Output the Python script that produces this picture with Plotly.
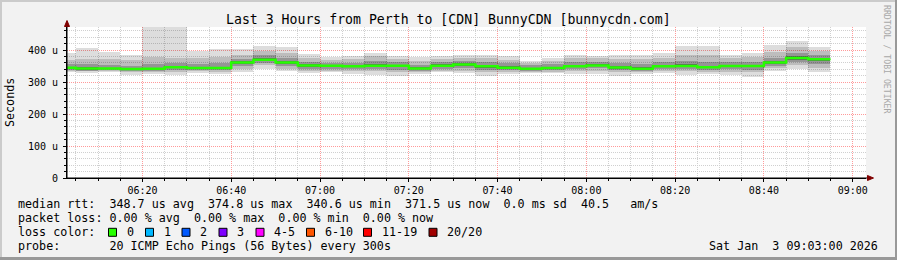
import plotly.graph_objects as go
import pandas as pd

# ---------------- data ----------------
step_start = pd.date_range("2026-01-03 06:00", periods=35, freq="5min")
median = [345, 342, 342, 340.6, 341.5, 346, 344, 344, 361, 370,
          361, 352, 351, 349, 351, 351, 342.6, 351, 355, 349,
          345, 341.6, 344, 349, 352, 345.5, 341.6, 349, 350, 346,
          350, 350, 361, 374.8, 371.5]
ping_min = [332, 329, 332, 322, 324, 321, 328, 326, 331, 340,
            333, 327, 330, 326, 322, 318, 324, 331, 327, 319,
            324, 327, 327, 324, 324, 319, 324, 327, 322, 324,
            322, 317, 336, 340, 330]
p10 = [336, 333, 334, 330, 330, 331, 333, 332, 340, 352,
       342, 335, 336, 334, 333, 330, 331, 336, 336, 330,
       331, 331, 332, 333, 335, 330, 330, 334, 333, 332,
       332, 330, 343, 352, 345]
p25 = [339, 336, 337, 335, 335, 337, 338, 337, 350, 361,
       350, 342, 342, 340, 340, 339, 336, 342, 344, 338,
       337, 335, 337, 340, 343, 337, 335, 340, 340, 338,
       340, 339, 350, 362, 357]
p40 = [342, 339, 340, 338, 339, 343, 341, 341, 357, 367,
       357, 348, 348, 346, 347, 347, 340, 348, 351, 345,
       342, 339, 341, 346, 349, 342, 339, 346, 347, 343,
       347, 347, 357, 370, 366]
p60 = [348, 346, 345, 344, 345, 350, 348, 348, 365, 375,
       366, 356, 354, 352, 355, 354, 346, 355, 359, 353,
       349, 345, 348, 353, 356, 350, 346, 353, 355, 351,
       354, 354, 366, 380, 376]
p75 = [356, 355, 352, 350, 355, 360, 357, 358, 372, 383,
       375, 364, 360, 360, 365, 362, 354, 362, 366, 362,
       358, 352, 356, 362, 364, 360, 356, 362, 366, 362,
       362, 364, 376, 392, 386]
p90 = [368, 372, 373, 368, 378, 376, 375, 378, 385, 396,
       390, 376, 370, 372, 380, 372, 366, 372, 376, 375,
       370, 360, 366, 374, 374, 373, 372, 376, 385, 385,
       374, 378, 395, 408, 398]
ping_max = [390, 405, 395, 384, 480, 480, 398, 402, 404, 414,
            408, 388, 378, 382, 391, 381, 378, 382, 384, 386,
            382, 367, 376, 384, 381, 384, 386, 391, 413, 413,
            384, 391, 417, 429, 410]

y_tick_vals = [0, 100, 200, 300, 400]
y_tick_text = ["0", "100 u", "200 u", "300 u", "400 u"]

loss_labels = ["0", "1", "2", "3", "4-5", "6-10", "11-19", "20/20"]
loss_colors = ["#26ff00", "#00b8ff", "#0059ff", "#7e00ff", "#ff00ff",
               "#ff5500", "#ff0000", "#a10000"]

title_text = "Last 3 Hours from Perth to [CDN] BunnyCDN [bunnycdn.com]"
line_rtt = "median rtt:  348.7 us avg  374.8 us max  340.6 us min  371.5 us now  0.0 ms sd  40.5   am/s"
line_loss = "packet loss: 0.00 % avg  0.00 % max  0.00 % min  0.00 % now"
line_color = "loss color:"
line_probe = "probe:       20 ICMP Echo Pings (56 Bytes) every 300s"
stamp = "Sat Jan  3 09:03:00 2026"

# ---------------- layout geometry ----------------
W, H = 897, 260
L, R, T, B = 67, 31, 27, 82
PW, PH = W - L - R, H - T - B
MONO = "DejaVu Sans Mono"


def fx(px):
    return (px - L) / PW


def fy(py):
    return (H - B - py) / PH


def nb(s):
    return s.replace(" ", "\u00a0")


fig = go.Figure()

STEP_MS = 300000
centers = step_start + pd.Timedelta(seconds=150)
# cumulative gray levels of the smoke, outer to inner; drawn as translucent
# black layers so the grid shows through like in rrdtool
band_gray = [221, 189, 150, 100]
bands = [(ping_min, ping_max), (p10, p90), (p25, p75), (p40, p60)]
prev = 255.0
for (lo, hi), g in zip(bands, band_gray):
    alpha = 1 - g / prev
    prev = g
    fig.add_trace(go.Bar(
        x=centers, y=[h - l for h, l in zip(hi, lo)], base=lo, width=STEP_MS,
        marker=dict(color=f"rgba(0,0,0,{alpha:.4f})", line=dict(width=0)),
        hoverinfo="skip", showlegend=False))

x_line = list(step_start) + [step_start[-1] + pd.Timedelta(minutes=5)]
y_line = list(median) + [median[-1]]
fig.add_trace(go.Scatter(x=x_line, y=y_line, mode="lines",
                         line=dict(shape="hv", color=loss_colors[0], width=2.5),
                         hoverinfo="skip", showlegend=False))

x0 = pd.Timestamp("2026-01-03 06:03")
x1 = pd.Timestamp("2026-01-03 09:03")
YMAX = 472

GRID_MAJOR = "#ff9a9a"
GRID_MINOR = "#d0d0d0"
DASH = "1px,1px"

shapes = []
# axis extensions and arrows
shapes.append(dict(type="line", xref="paper", yref="paper", x0=0, x1=0, y0=0, y1=fy(22),
                   line=dict(color="black", width=1), layer="above"))
shapes.append(dict(type="line", xref="paper", yref="paper", x0=0, x1=fx(869), y0=0, y1=0,
                   line=dict(color="black", width=1), layer="above"))
shapes.append(dict(type="path", xref="paper", yref="paper",
                   path=f"M {fx(64.5)},{fy(26.5)} L {fx(69.5)},{fy(26.5)} L {fx(67)},{fy(20.5)} Z",
                   fillcolor="#800000", line=dict(color="#800000", width=1), layer="above"))
shapes.append(dict(type="path", xref="paper", yref="paper",
                   path=f"M {fx(867.5)},{fy(175.5)} L {fx(867.5)},{fy(180.5)} L {fx(873.5)},{fy(178)} Z",
                   fillcolor="#800000", line=dict(color="#800000", width=1), layer="above"))

# frame (3D border)
shapes += [
    dict(type="rect", xref="paper", yref="paper", x0=fx(0), x1=fx(W), y0=fy(0), y1=fy(2),
         fillcolor="#cbcbcb", line=dict(width=0), layer="below"),
    dict(type="rect", xref="paper", yref="paper", x0=fx(0), x1=fx(2), y0=fy(0), y1=fy(H),
         fillcolor="#cbcbcb", line=dict(width=0), layer="below"),
    dict(type="rect", xref="paper", yref="paper", x0=fx(W - 2), x1=fx(W), y0=fy(0), y1=fy(H),
         fillcolor="#999999", line=dict(width=0), layer="below"),
    dict(type="rect", xref="paper", yref="paper", x0=fx(0), x1=fx(W), y0=fy(H - 3), y1=fy(H),
         fillcolor="#999999", line=dict(width=0), layer="below"),
]

annotations = []


def ann(text, px, py, size, xanchor="left", color="black", angle=0):
    annotations.append(dict(text=nb(text), x=fx(px), y=fy(py), xref="paper", yref="paper",
                            xanchor=xanchor, yanchor="middle", showarrow=False,
                            textangle=angle,
                            font=dict(family=MONO, size=size, color=color)))


LEG = 11.7
ann(title_text, 448, 19.3, 13.2, xanchor="center")
ann("Seconds", 10, 103, LEG, xanchor="center", angle=-90)
ann("RRDTOOL / TOBI OETIKER", 887, 59, 8.2, xanchor="center", color="#a8a8a8", angle=90)
ann(line_rtt, 16, 204.3, LEG)
ann(line_loss, 16, 218.3, LEG)
ann(line_color, 16, 232.3, LEG)
ann(line_probe, 16, 246.3, LEG)
ann(stamp, 880, 246.3, LEG, xanchor="right")

# legend swatch positions (layout)
box_x = [108.5, 145.5, 182, 219, 256, 306.5, 363.5, 429]
for bx, lab, col in zip(box_x, loss_labels, loss_colors):
    shapes.append(dict(type="rect", xref="paper", yref="paper",
                       x0=fx(bx), x1=fx(bx + 8), y0=fy(228.3), y1=fy(236.3),
                       fillcolor=col, line=dict(color="black", width=1), layer="above"))
    ann(lab, bx + 16, 232.3, LEG)

fig.update_layout(
    width=W, height=H,
    margin=dict(l=L, r=R, t=T, b=B, pad=0),
    paper_bgcolor="#f2f2f2", plot_bgcolor="white",
    barmode="overlay", bargap=0,
    showlegend=False,
    shapes=shapes, annotations=annotations,
    xaxis=dict(type="date", range=[x0, x1], tickformat="%H:%M",
               dtick=1200000, tick0="2026-01-03 06:20",
               showgrid=True, gridcolor=GRID_MAJOR, griddash=DASH, gridwidth=1,
               zeroline=False, showline=True, linecolor="black", linewidth=1,
               ticks="outside", ticklen=3, tickcolor="black",
               minor=dict(dtick=STEP_MS, tick0="2026-01-03 06:05", ticks="outside",
                          ticklen=2, tickcolor="black", showgrid=True,
                          gridcolor=GRID_MINOR, griddash=DASH, gridwidth=1),
               tickfont=dict(family=MONO, size=10, color="black"), fixedrange=True),
    yaxis=dict(range=[0, YMAX], tickvals=y_tick_vals, ticktext=y_tick_text,
               showgrid=True, gridcolor=GRID_MAJOR, griddash=DASH, gridwidth=1,
               zeroline=False, showline=True, linecolor="black", linewidth=1,
               ticks="outside", ticklen=3, tickcolor="black", ticklabelstandoff=3,
               minor=dict(dtick=20, ticks="outside", ticklen=2, tickcolor="black",
                          showgrid=True, gridcolor=GRID_MINOR, griddash=DASH, gridwidth=1),
               tickfont=dict(family=MONO, size=10, color="black"), fixedrange=True),
)

fig.write_html("out.html")
